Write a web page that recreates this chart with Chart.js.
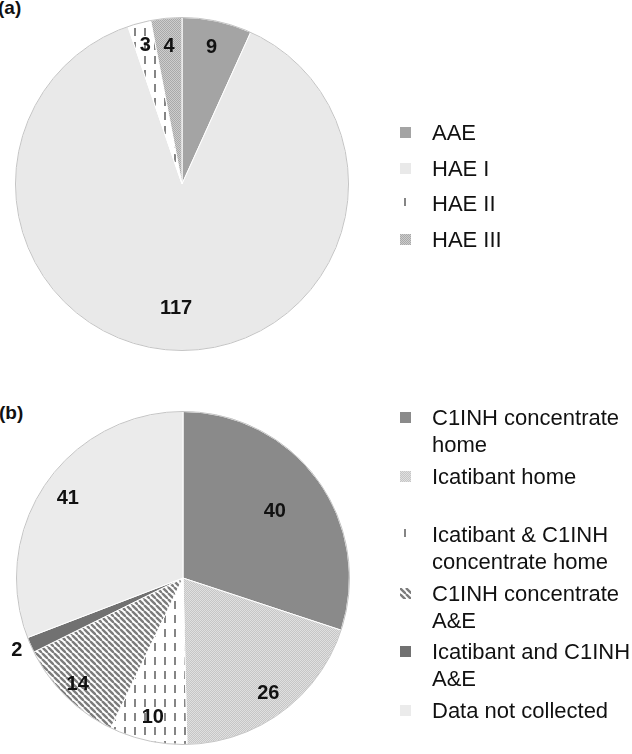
<!DOCTYPE html>
<html>
<head>
<meta charset="utf-8">
<script src="https://cdn.jsdelivr.net/npm/chart.js@4"></script>
<style>
  body { margin: 0; background: #fff; font-family: "Liberation Sans", Arial, Helvetica, sans-serif; }
  #page { position: relative; width: 632px; height: 754px; overflow: hidden; }
  canvas.pie { position: absolute; left: 0; }
  .panel { position: absolute; font-weight: bold; font-size: 19px; color: #111; }
  .legend { position: absolute; left: 400px; color: #111; font-size: 22px; }
  .item { display: flex; align-items: flex-start; }
  .item canvas { margin-top: 8px; margin-right: 21px; flex: none; }
  #legendA .item { height: 35.5px; line-height: 27px; }
  #legendB .item { height: 58.6px; line-height: 27px; }
</style>
</head>
<body>
<div id="page">
  <div class="panel" style="left:-2px; top:-3px;">(a)</div>
  <div class="panel" style="left:-1px; top:402px;">(b)</div>
  <canvas id="chartA" class="pie" width="370" height="370" style="top:0"></canvas>
  <canvas id="chartB" class="pie" width="370" height="377" style="top:377px"></canvas>
  <div id="legendA" class="legend" style="top:119px"></div>
  <div id="legendB" class="legend" style="top:404px"></div>
</div>
<script>
// (a) diagnosis
const typeLabels = ["AAE", "HAE I", "HAE II", "HAE III"];
const typeCounts = [9, 117, 3, 4];

// (b) treatment
const treatLabels = [
  ["C1INH concentrate", "home"],
  ["Icatibant home"],
  ["Icatibant & C1INH", "concentrate home"],
  ["C1INH concentrate", "A&E"],
  ["Icatibant and C1INH", "A&E"],
  ["Data not collected"]
];
const treatCounts = [40, 26, 10, 14, 2, 41];

// fill patterns (Excel style greyscale)
function tile(w, h, draw) {
  const c = document.createElement("canvas");
  c.width = w; c.height = h;
  const ctx = c.getContext("2d");
  draw(ctx);
  return ctx.createPattern(c, "repeat");
}
function checker(a, b) {
  return tile(2, 2, ctx => {
    ctx.fillStyle = a; ctx.fillRect(0, 0, 2, 2);
    ctx.fillStyle = b; ctx.fillRect(0, 0, 1, 1); ctx.fillRect(1, 1, 1, 1);
  });
}
function dashes() {
  return tile(10, 14, ctx => {
    ctx.fillStyle = "#fff"; ctx.fillRect(0, 0, 10, 14);
    ctx.fillStyle = "#858585";
    ctx.fillRect(4, 0, 2, 8);
  });
}
function stripes() {
  return tile(6, 6, ctx => {
    ctx.fillStyle = "#fff"; ctx.fillRect(0, 0, 6, 6);
    ctx.strokeStyle = "#7c7c7c"; ctx.lineWidth = 2.4;
    for (let i = -6; i <= 6; i += 6) {
      ctx.beginPath(); ctx.moveTo(i, 0); ctx.lineTo(i + 6, 6); ctx.stroke();
    }
  });
}

const typeFills = ["#a4a4a4", "#e9e9e9", dashes(), checker("#cdcdcd", "#a9a9a9")];
const treatFills = ["#8a8a8a", checker("#e0e0e0", "#c6c6c6"), dashes(), stripes(), "#717171", "#ebebeb"];

// how far out (fraction of radius) each value label sits
const typeLabelPos = [0.84, 0.75, 0.86, 0.83];
const treatLabelPos = [0.68, 0.86, 0.86, 0.9, 1.09, 0.84];

const valueLabels = {
  id: "valueLabels",
  afterDatasetsDraw(chart, args, opts) {
    const ctx = chart.ctx;
    const meta = chart.getDatasetMeta(0);
    const values = chart.data.datasets[0].data;
    ctx.save();
    ctx.font = "bold 20px 'Liberation Sans', Arial, sans-serif";
    ctx.fillStyle = "#111";
    ctx.textAlign = "center";
    ctx.textBaseline = "middle";
    meta.data.forEach((arc, i) => {
      const p = arc.getProps(["x", "y", "startAngle", "endAngle", "outerRadius"], true);
      const mid = (p.startAngle + p.endAngle) / 2;
      const r = p.outerRadius * opts.pos[i];
      ctx.fillText(String(values[i]), p.x + Math.cos(mid) * r, p.y + Math.sin(mid) * r);
    });
    // faint outline round the pie
    const a0 = meta.data[0].getProps(["x", "y", "outerRadius"], true);
    ctx.beginPath();
    ctx.arc(a0.x, a0.y, a0.outerRadius, 0, Math.PI * 2);
    ctx.strokeStyle = "#c4c4c4";
    ctx.lineWidth = 1;
    ctx.stroke();
    ctx.restore();
  }
};

function makePie(id, labels, values, fills, pos, padding) {
  new Chart(document.getElementById(id), {
    type: "pie",
    data: {
      labels: labels,
      datasets: [{
        data: values,
        backgroundColor: fills,
        borderColor: "#ffffff",
        borderWidth: 1
      }]
    },
    options: {
      responsive: false,
      animation: false,
      layout: { padding: padding },
      plugins: {
        legend: { display: false },
        tooltip: { enabled: false },
        valueLabels: { pos: pos }
      }
    },
    plugins: [valueLabels]
  });
}

makePie("chartA", typeLabels, typeCounts, typeFills, typeLabelPos,
  { left: 15, right: 21, top: 17, bottom: 19 });
makePie("chartB", treatLabels, treatCounts, treatFills, treatLabelPos,
  { left: 16, right: 20, top: 34, bottom: 9 });

// html legend so the long labels can wrap like the original
function buildLegend(elId, labels, fills) {
  const box = document.getElementById(elId);
  labels.forEach((lab, i) => {
    const row = document.createElement("div");
    row.className = "item";
    const sw = document.createElement("canvas");
    sw.width = 11; sw.height = 11;
    const sctx = sw.getContext("2d");
    sctx.fillStyle = fills[i];
    sctx.fillRect(0, 0, 11, 11);
    const txt = document.createElement("div");
    txt.innerHTML = [].concat(lab).map(s => s.replace(/&/g, "&amp;")).join("<br>");
    row.appendChild(sw);
    row.appendChild(txt);
    box.appendChild(row);
  });
}
buildLegend("legendA", typeLabels, typeFills);
buildLegend("legendB", treatLabels, treatFills);
</script>
</body>
</html>
